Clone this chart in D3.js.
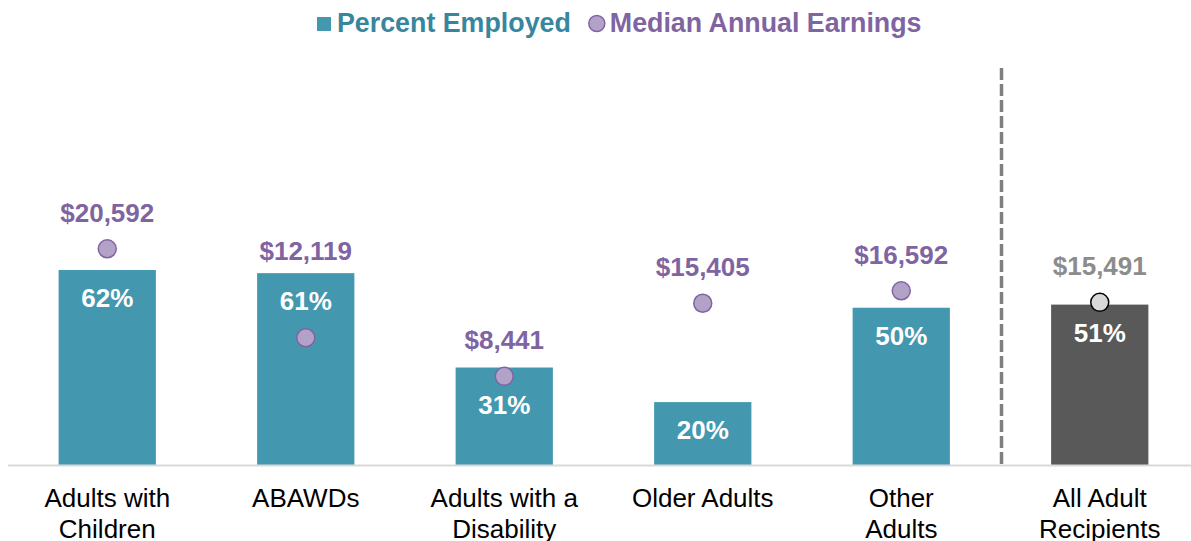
<!DOCTYPE html>
<html>
<head>
<meta charset="utf-8">
<script src="https://cdnjs.cloudflare.com/ajax/libs/d3/7.8.5/d3.min.js"></script>
<style>
  body { margin: 0; background: #fff; }
  svg { display: block; font-family: Arial, "Liberation Sans", sans-serif; }
</style>
</head>
<body>
<div id="idChart"></div>
<script>
// data
var categories = [
    ["Adults with", "Children"],
    ["ABAWDs"],
    ["Adults with a", "Disability"],
    ["Older Adults"],
    ["Other", "Adults"],
    ["All Adult", "Recipients"]
];
var pctEmployed = [0.62, 0.61, 0.31, 0.20, 0.50, 0.51];
var medianEarnings = [20592, 12119, 8441, 15405, 16592, 15491];
var legendLabels = ["Percent Employed", "Median Annual Earnings"];

var iWidth = 1191;
var iHeight = 541;
var iBase = 465;

var cTeal = "#4398b0";
var cTealText = "#37869d";
var cPurple = "#8064a2";
var cPurpleFill = "#b3a2c7";
var cTotalBar = "#595959";
var cTotalText = "#8c8c8c";

var svg = d3.select("#idChart").append("svg")
    .attr("width", iWidth)
    .attr("height", iHeight);

var idx = d3.range(categories.length);
var lastIdx = categories.length - 1;

var x = d3.scaleBand()
    .domain(idx)
    .range([8, 1199])
    .paddingInner(0.51)
    .paddingOuter(0.255);

var yPct = d3.scaleLinear().domain([0, 1]).range([iBase, 150.5]);
var yEarn = d3.scaleLinear().domain([0, 30000]).range([iBase, 150]);

var bw = x.bandwidth();
function cx(i) { return x(i) + bw / 2; }

// bars
svg.append("g").selectAll("rect")
    .data(idx)
    .enter().append("rect")
    .attr("x", function(i) { return x(i); })
    .attr("y", function(i) { return yPct(pctEmployed[i]); })
    .attr("width", bw)
    .attr("height", function(i) { return iBase - yPct(pctEmployed[i]); })
    .attr("fill", function(i) { return i === lastIdx ? cTotalBar : cTeal; });

// x axis (baseline + two-line category labels)
var xAxis = d3.axisBottom(x).tickSize(0).tickFormat("");
var gAxis = svg.append("g")
    .attr("transform", "translate(0," + iBase + ")")
    .call(xAxis);
gAxis.select(".domain").attr("stroke", "#d9d9d9").attr("stroke-width", 2)
    .attr("d", "M8,0.5H1191");
gAxis.selectAll(".tick text").remove();
gAxis.selectAll(".tick").append("text")
    .attr("fill", "#000")
    .style("font-size", "26px")
    .attr("text-anchor", "middle")
    .each(function(i) {
        var t = d3.select(this);
        categories[i].forEach(function(s, k) {
            t.append("tspan").attr("x", 0).attr("y", 42 + k * 30.5).text(s);
        });
    });

// separator before the total
var xSep = (x(lastIdx - 1) + bw + x(lastIdx)) / 2 + 1;
svg.append("line")
    .attr("x1", xSep).attr("x2", xSep)
    .attr("y1", 68).attr("y2", iBase)
    .attr("stroke", "#808080")
    .attr("stroke-width", 3.5)
    .attr("stroke-dasharray", "12,4");

// percent labels inside bars
svg.append("g").selectAll("text")
    .data(idx)
    .enter().append("text")
    .attr("x", cx)
    .attr("y", function(i) {
        var top = yPct(pctEmployed[i]);
        var dot = yEarn(medianEarnings[i]);
        var y = top + 37;
        if (Math.abs(dot - top) < 15) y = Math.max(y, dot + 38);
        return y;
    })
    .attr("text-anchor", "middle")
    .attr("fill", "#fff")
    .style("font-size", "26px")
    .style("font-weight", "bold")
    .text(function(i) { return Math.round(pctEmployed[i] * 100) + "%"; });

// earnings dots
svg.append("g").selectAll("circle")
    .data(idx)
    .enter().append("circle")
    .attr("cx", cx)
    .attr("cy", function(i) { return yEarn(medianEarnings[i]); })
    .attr("r", 9)
    .attr("fill", function(i) { return i === lastIdx ? "#d9d9d9" : cPurpleFill; })
    .attr("stroke", function(i) { return i === lastIdx ? "#000" : cPurple; })
    .attr("stroke-width", 1.5);

// earnings labels
var fmt = d3.format("$,");
svg.append("g").selectAll("text")
    .data(idx)
    .enter().append("text")
    .attr("x", cx)
    .attr("y", function(i) {
        var top = yPct(pctEmployed[i]);
        var dot = yEarn(medianEarnings[i]);
        if (dot > top + 15) return top - 13;
        return dot - 27;
    })
    .attr("text-anchor", "middle")
    .attr("fill", function(i) { return i === lastIdx ? cTotalText : cPurple; })
    .style("font-size", "26px")
    .style("font-weight", "bold")
    .text(function(i) { return fmt(medianEarnings[i]); });

// legend
var gLeg = svg.append("g").style("font-size", "26.8px").style("font-weight", "bold");
gLeg.append("rect")
    .attr("x", 317).attr("y", 17).attr("width", 14).attr("height", 14)
    .attr("fill", cTeal);
var t1 = gLeg.append("text")
    .attr("x", 337).attr("y", 32)
    .attr("fill", cTealText)
    .text(legendLabels[0]);
var xEnd = 337 + t1.node().getComputedTextLength();
gLeg.append("circle")
    .attr("cx", xEnd + 26).attr("cy", 23.5).attr("r", 8)
    .attr("fill", cPurpleFill).attr("stroke", cPurple).attr("stroke-width", 1.5);
gLeg.append("text")
    .attr("x", xEnd + 39).attr("y", 32)
    .attr("fill", cPurple)
    .text(legendLabels[1]);
</script>
</body>
</html>
